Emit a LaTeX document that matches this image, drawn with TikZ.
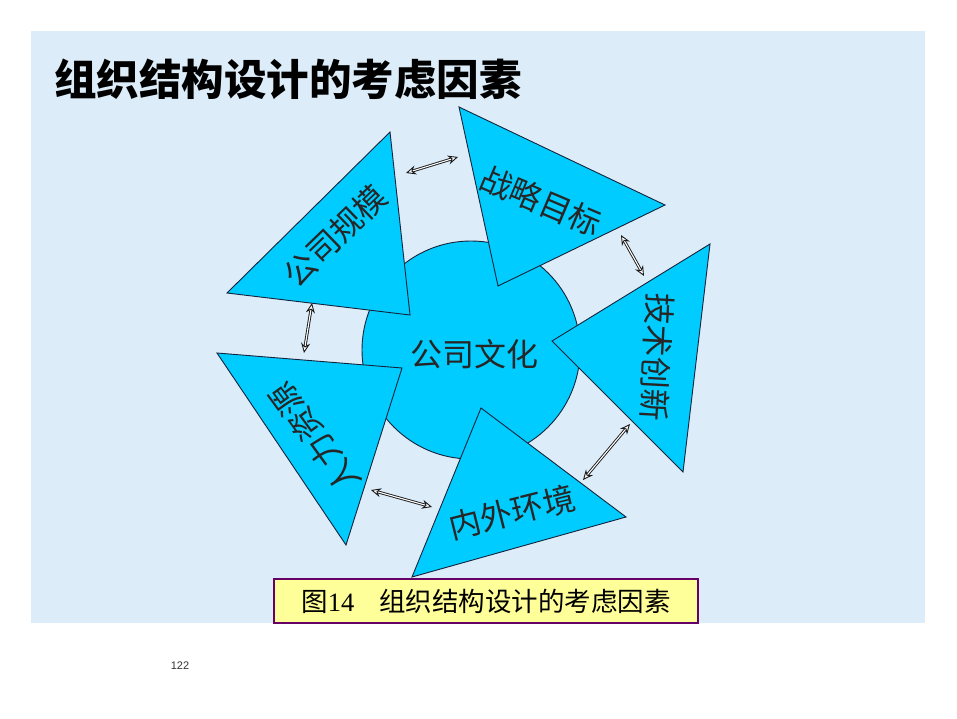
\documentclass[tikz,border=0pt]{standalone}
\usepackage{fontspec}
\setmainfont{Liberation Serif}
\newfontfamily\cjk{Noto Sans CJK SC}
\newfontfamily\pgsans{Liberation Sans}
\usetikzlibrary{arrows.meta}
\definecolor{bgblue}{RGB}{220,236,248}
\definecolor{tri}{RGB}{0,204,255}
\definecolor{edge}{RGB}{20,35,60}
\definecolor{capfill}{RGB}{255,255,153}
\definecolor{capborder}{RGB}{102,0,102}
\begin{document}
\begin{tikzpicture}[x=1pt,y=-1pt,
  tripoly/.style={fill=tri, draw=edge, line width=0.9pt, line join=miter},
  lbl/.style={font=\cjk\fontsize{32}{32}\selectfont, inner sep=0pt, text=black!85},
  link/.style={draw=black!90, line width=0.9pt, double=white, double distance=1.1pt,
    {Stealth[length=10pt,width=9pt,fill=white,line width=0.9pt]}-{Stealth[length=10pt,width=9pt,fill=white,line width=0.9pt]}}]
\useasboundingbox (0,0) rectangle (957,719);
\fill[white] (0,0) rectangle (957,719);
\fill[bgblue] (31,31) rectangle (925,623);

\node[anchor=west, inner sep=0pt, font=\cjk\bfseries\fontsize{42.5}{42.5}\selectfont] (title) at (54,79) {组织结构设计的考虑因素};

% core circle
\node[circle, tripoly, minimum size=218pt, inner sep=0pt] (core) at (471,350) {};
\node[lbl] (corelbl) at (474,354) {公司文化};

% triangles
\coordinate (t1a) at (390,132); \coordinate (t1b) at (227,293); \coordinate (t1c) at (410,315);
\coordinate (t2a) at (459,107); \coordinate (t2b) at (665,205); \coordinate (t2c) at (498,286);
\coordinate (t3a) at (710,244); \coordinate (t3b) at (552,341); \coordinate (t3c) at (683,472);
\coordinate (t4a) at (481,408); \coordinate (t4b) at (626,517); \coordinate (t4c) at (412,577);
\coordinate (t5a) at (217,353); \coordinate (t5b) at (402,368); \coordinate (t5c) at (346,545);
\draw[tripoly] (t1a) -- (t1b) -- (t1c) -- cycle;
\draw[tripoly] (t2a) -- (t2b) -- (t2c) -- cycle;
\draw[tripoly] (t3a) -- (t3b) -- (t3c) -- cycle;
\draw[tripoly] (t4a) -- (t4b) -- (t4c) -- cycle;
\draw[tripoly] (t5a) -- (t5b) -- (t5c) -- cycle;

% labels
\node[lbl, rotate=44] (l1) at (335,236) {公司规模};
\node[lbl, rotate=-23] (l2) at (541,201) {战略目标};
\node[lbl, rotate=-93] (l3) at (657,357) {技术创新};
\node[lbl, rotate=14] (l4) at (512,512) {内外环境};
\node[lbl, rotate=126] (l5) at (315,438) {人力资源};

% two-way links
\coordinate (a1s) at (406,173); \coordinate (a1e) at (458,157);
\coordinate (a2s) at (621,235); \coordinate (a2e) at (644,276);
\coordinate (a3s) at (312,303); \coordinate (a3e) at (304,353);
\coordinate (a4s) at (371,490); \coordinate (a4e) at (432,507);
\coordinate (a5s) at (583,480); \coordinate (a5e) at (630,424);
\draw[link] (a1s) -- (a1e);
\draw[link] (a2s) -- (a2e);
\draw[link] (a3s) -- (a3e);
\draw[link] (a4s) -- (a4e);
\draw[link] (a5s) -- (a5e);

% caption
\node[draw=capborder, line width=2.6pt, fill=capfill, minimum width=424pt, minimum height=44pt, inner sep=0pt,
  font=\fontsize{26.5}{26.5}\selectfont] (cap) at (486,601)
  {{\cjk 图}14\hspace{25pt}{\cjk 组织结构设计的考虑因素}};

\node[font=\pgsans\fontsize{11}{11}\selectfont, text=black!80] (pg) at (180,666) {122};
\end{tikzpicture}
\end{document}
